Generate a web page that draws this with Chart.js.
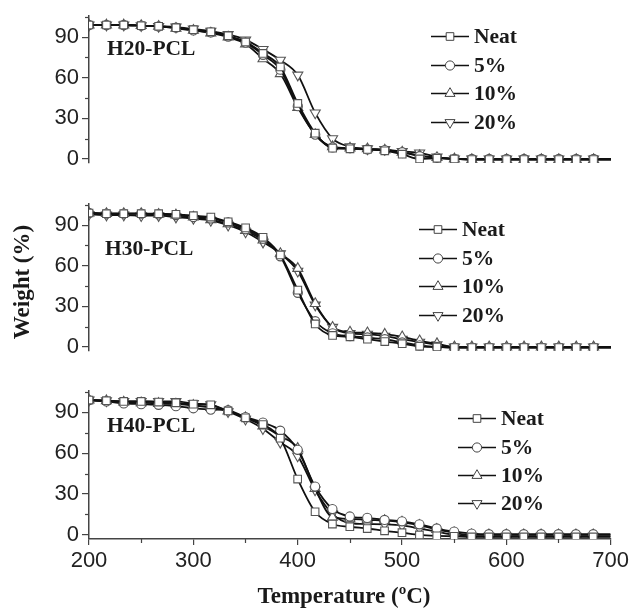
<!DOCTYPE html>
<html>
<head>
<meta charset="utf-8">
<script src="https://cdn.jsdelivr.net/npm/chart.js@4.4.1/dist/chart.umd.min.js"></script>
<style>
  body { margin: 0; background: #fff; }
  #wrap { position: relative; width: 632px; height: 610px; }
  #wrap canvas { position: absolute; left: 0; }
</style>
</head>
<body>
<div id="wrap">
  <canvas id="h20" width="632" height="180" style="top:0px"></canvas>
  <canvas id="h30" width="632" height="180" style="top:188px"></canvas>
  <canvas id="h40" width="632" height="235" style="top:375px"></canvas>
</div>
<script>
// temperature (°C) at each sampled point; the last one only closes the line
const temps = [200, 216.7, 233.3, 250, 266.7, 283.3, 300, 316.7, 333.3, 350,
  366.7, 383.3, 400, 416.7, 433.3, 450, 466.7, 483.3, 500, 516.7,
  533.3, 550, 566.7, 583.3, 600, 616.7, 633.3, 650, 666.7, 683.3, 700];

const seriesNames = ['Neat', '5%', '10%', '20%'];

// weight (%) - H20-PCL
const h20Neat = [99, 99, 99, 98.5, 98, 97, 95.5, 94, 91, 86.5, 78, 68, 41, 19, 8, 7.5, 7, 6, 3.5, 0, 0.5, 0, -0.5, -0.5, -0.5, -0.5, -0.5, -0.5, -0.5, -0.5, -0.5];
const h20P5 = [99, 99, 99, 98.5, 98, 97, 95, 93.5, 90.5, 86, 77, 66, 39, 18, 8.5, 8, 7, 6.5, 5, 2, 1, 0, 0, 0, 0, 0, 0, 0, 0, 0, 0];
const h20P10 = [99, 99, 99, 98.5, 98, 96.5, 95, 93, 90, 85, 74, 63, 38, 18, 9, 8, 7.5, 6.5, 5, 2.5, 1, 0, -0.5, -0.5, -0.5, -0.5, -0.5, -0.5, -0.5, -0.5, -0.5];
const h20P20 = [99, 99, 99, 98.5, 98, 97.5, 96, 94.5, 92, 88, 81, 73, 62, 34, 15, 9, 7.5, 7, 5.5, 4.5, 1.5, 0, 0, 0, 0, 0, 0, 0, 0, 0, 0];

// weight (%) - H30-PCL
const h30Neat = [99, 98.5, 98.5, 98.5, 98.5, 98, 97, 96, 92.5, 88, 81, 68, 42, 17, 8.5, 7.5, 5.7, 4, 2.4, 0.5, 0, -0.5, -0.5, -0.5, -0.5, -0.5, -0.5, -0.5, -0.5, -0.5, -0.5];
const h30P5 = [99, 98.5, 98.5, 98.5, 98, 97.5, 96, 95, 92, 87, 80, 67, 40, 19, 10, 8, 7, 5.7, 3.3, 1.2, 0, -0.5, -0.5, -0.5, -0.5, -0.5, -0.5, -0.5, -0.5, -0.5, -0.5];
const h30P10 = [99, 98.5, 98.5, 98.5, 98, 97.5, 96, 94, 91, 86, 79, 69, 58, 32, 14.5, 11, 10.4, 9.4, 7.5, 4.5, 2.4, 0, 0, 0, 0, 0, 0, 0, 0, 0, 0];
const h30P20 = [98, 97.5, 97.5, 97, 97, 96, 95, 93.5, 90, 85, 77.5, 69, 56, 31, 14.5, 10, 9.4, 8, 5.7, 3.5, 1.6, 0, 0, 0, 0, 0, 0, 0, 0, 0, 0];

// weight (%) - H40-PCL
const h40Neat = [99, 98.5, 98, 98, 97.5, 97, 96, 95.5, 91, 86, 81, 71, 41, 17, 8, 6, 4.7, 3, 1.6, 0, -0.7, -1, -1.5, -1.5, -1.5, -1.5, -1.5, -1.5, -1.5, -1.5, -1.5];
const h40P5 = [99, 98, 96.5, 96, 95.5, 94.5, 93, 92, 91.5, 86.5, 82.5, 76.5, 62.5, 35.5, 19, 13.5, 12.5, 11, 10, 7.8, 4.7, 2.4, 1, 0.5, 0.5, 0.5, 0.5, 0.5, 0.5, 0.5, 0.5];
const h40P10 = [99, 98.5, 97.5, 97, 96.5, 96, 95, 93.5, 91, 86, 80, 72.5, 63.5, 34, 13, 11.8, 11, 10.5, 9.4, 7, 4, 1.5, 0, 0, 0, 0, 0, 0, 0, 0, 0];
const h40P20 = [99, 98.5, 98, 98, 98, 98, 96.5, 95.5, 90.5, 85, 78, 68, 58, 33, 15.5, 8.7, 8, 7.8, 7, 4.7, 2.4, 0, -1, -1, -1, -1, -1, -1, -1, -1, -1];

const xTicks = [200, 300, 400, 500, 600, 700];
const xMinor = [250, 350, 450, 550, 650];
const yTicks = [0, 30, 60, 90];
const yMinor = [15, 45, 75, 105];

const markers = [
  { pointStyle: 'rect', rotation: 0, radius: 5.4 },
  { pointStyle: 'circle', rotation: 0, radius: 4.6 },
  { pointStyle: 'triangle', rotation: 0, radius: 5.8 },
  { pointStyle: 'triangle', rotation: 180, radius: 5.8 }
];

const serif = "'Liberation Serif', 'Times New Roman', serif";
const sans = "'Liberation Sans', Arial, sans-serif";

function makeDatasets(series) {
  return series.map((vals, i) => ({
    label: seriesNames[i],
    data: temps.map((t, k) => ({ x: t, y: vals[k] })),
    borderColor: '#111',
    borderWidth: 1.8,
    backgroundColor: '#fff',
    pointBackgroundColor: '#fff',
    pointBorderColor: '#555',
    pointBorderWidth: 1.1,
    pointStyle: markers[i].pointStyle,
    pointRotation: markers[i].rotation,
    pointRadius: ctx => ctx.dataIndex === temps.length - 1 ? 0 : markers[i].radius,
    cubicInterpolationMode: 'monotone'
  }));
}

// panel label, in-plot legend, minor ticks and axis titles
const panelDecor = {
  id: 'panelDecor',
  afterDraw(chart, args, opts) {
    const ctx = chart.ctx;
    const area = chart.chartArea;
    ctx.save();

    // minor ticks
    ctx.strokeStyle = '#444';
    ctx.lineWidth = 1.2;
    const ys = chart.scales.y;
    yMinor.forEach(v => {
      const py = Math.round(ys.getPixelForValue(v)) + 0.5;
      ctx.beginPath();
      ctx.moveTo(area.left - 4, py);
      ctx.lineTo(area.left, py);
      ctx.stroke();
    });
    if (opts.bottom) {
      const xs = chart.scales.x;
      xMinor.forEach(v => {
        const px = Math.round(xs.getPixelForValue(v)) + 0.5;
        ctx.beginPath();
        ctx.moveTo(px, area.bottom);
        ctx.lineTo(px, area.bottom + 4);
        ctx.stroke();
      });
    }

    ctx.fillStyle = '#1a1a1a';
    ctx.font = 'bold 21.5px ' + serif;
    ctx.textBaseline = 'middle';
    ctx.textAlign = 'left';
    ctx.fillText(opts.title, area.left + opts.titleX, area.top + opts.titleY);

    // legend rows
    chart.data.datasets.forEach((ds, i) => {
      const lx = area.left + opts.legendX;
      const ly = Math.round(area.top + opts.legendY + i * opts.legendGap) + 0.5;
      ctx.strokeStyle = '#111';
      ctx.lineWidth = 1.5;
      ctx.beginPath();
      ctx.moveTo(lx, ly);
      ctx.lineTo(lx + 38, ly);
      ctx.stroke();
      ctx.fillStyle = '#fff';
      ctx.strokeStyle = '#444';
      ctx.lineWidth = 1;
      Chart.helpers.drawPoint(ctx, {
        pointStyle: markers[i].pointStyle,
        rotation: markers[i].rotation,
        radius: markers[i].radius,
        borderWidth: 1
      }, lx + 19, ly);
      ctx.fillStyle = '#1a1a1a';
      ctx.fillText(ds.label, lx + 43, ly + 1);
    });

    if (opts.yTitle) {
      ctx.save();
      ctx.font = 'bold 23px ' + serif;
      ctx.textAlign = 'center';
      ctx.translate(opts.yTitle.x, opts.yTitle.y);
      ctx.rotate(-Math.PI / 2);
      ctx.fillText(opts.yTitle.text, 0, 0);
      ctx.restore();
    }
    if (opts.xTitle) {
      ctx.font = 'bold 23px ' + serif;
      ctx.textAlign = 'center';
      ctx.fillText(opts.xTitle.text, opts.xTitle.x, opts.xTitle.y);
    }
    ctx.restore();
  }
};

function panelOptions(decor) {
  const bottom = !!decor.bottom;
  return {
    responsive: false,
    animation: false,
    events: [],
    layout: { padding: { left: 0, right: 21, top: 10, bottom: bottom ? 0 : 17 } },
    plugins: {
      legend: { display: false },
      tooltip: { enabled: false },
      panelDecor: decor
    },
    scales: {
      x: {
        type: 'linear',
        min: 200,
        max: 700,
        display: bottom,
        afterFit: axis => { axis.height = bottom ? 71 : 0; },
        afterBuildTicks: axis => { axis.ticks = xTicks.map(v => ({ value: v })); },
        grid: { drawOnChartArea: false, tickLength: 6, color: '#444', lineWidth: 1.2 },
        border: { color: '#444', width: 1.5 },
        ticks: {
          font: { family: sans, size: 22 },
          color: '#222',
          padding: 3,
          maxRotation: 0,
          autoSkip: false
        }
      },
      y: {
        min: -3,
        max: 105.5,
        afterFit: axis => { axis.width = 89; },
        afterBuildTicks: axis => { axis.ticks = yTicks.map(v => ({ value: v })); },
        grid: { drawOnChartArea: false, tickLength: 7, color: '#444', lineWidth: 1.2 },
        border: { color: '#444', width: 1.5 },
        ticks: {
          font: { family: sans, size: 22 },
          color: '#222',
          padding: 3,
          autoSkip: false
        }
      }
    }
  };
}

new Chart(document.getElementById('h20'), {
  type: 'line',
  data: { datasets: makeDatasets([h20Neat, h20P5, h20P10, h20P20]) },
  options: panelOptions({
    title: 'H20-PCL', titleX: 18, titleY: 33,
    legendX: 342, legendY: 20, legendGap: 28.5
  }),
  plugins: [panelDecor]
});

new Chart(document.getElementById('h30'), {
  type: 'line',
  data: { datasets: makeDatasets([h30Neat, h30P5, h30P10, h30P20]) },
  options: panelOptions({
    title: 'H30-PCL', titleX: 16, titleY: 45,
    legendX: 330, legendY: 25, legendGap: 28.5,
    yTitle: { text: 'Weight (%)', x: 23, y: 94 }
  }),
  plugins: [panelDecor]
});

new Chart(document.getElementById('h40'), {
  type: 'line',
  data: { datasets: makeDatasets([h40Neat, h40P5, h40P10, h40P20]) },
  options: panelOptions({
    bottom: true,
    title: 'H40-PCL', titleX: 18, titleY: 35,
    legendX: 369, legendY: 27, legendGap: 28.3,
    xTitle: { text: 'Temperature (ºC)', x: 344, y: 222 }
  }),
  plugins: [panelDecor]
});
</script>
</body>
</html>
